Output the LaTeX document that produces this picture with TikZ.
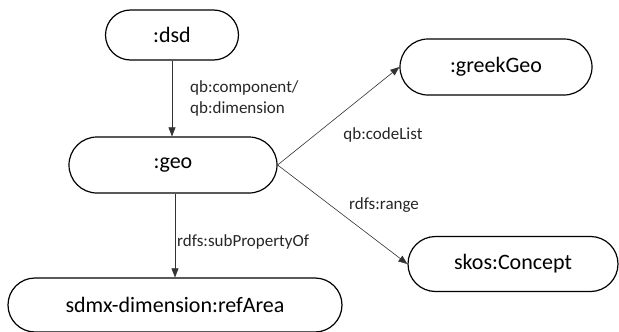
\documentclass[tikz,border=0pt]{standalone}
\usepackage{fontspec}
\setmainfont{Carlito}
\usetikzlibrary{shapes.misc,arrows.meta}
\begin{document}
\begin{tikzpicture}[x=1pt,y=-1pt,
  term/.style={draw=black,line width=1.2pt,rounded rectangle,inner sep=0pt,
    font=\fontsize{22}{26}\selectfont},
  rel/.style={draw=black!80,line width=0.6pt,-{Triangle[length=9pt,width=7pt]}},
  lbl/.style={font=\fontsize{17}{21}\selectfont,inner sep=0pt,text=black!85}]
\useasboundingbox (0,0) rectangle (619,332);
\node[term,minimum width=133pt,minimum height=50pt] (dsd) at (172,35) {:dsd};
\node[term,minimum width=208pt,minimum height=56pt] (geo) at (173,165) {:geo};
\node[term,minimum width=334pt,minimum height=54pt] (ref) at (175,305) {sdmx-dimension:refArea};
\node[term,minimum width=192pt,minimum height=56pt] (greek) at (496,67) {:greekGeo};
\node[term,minimum width=210pt,minimum height=55pt] (skos) at (513,264) {skos:Concept};
\draw[rel] (dsd.south) -- (dsd.south |- geo.north);
\draw[rel] (ref.north |- geo.south) -- (ref.north);
\draw[rel] (geo.east) -- (greek.west);
\draw[rel] (geo.east) -- (skos.west);
\node[lbl,anchor=west,align=left] (l1) at (190,98) {qb:component/\\qb:dimension};
\node[lbl,anchor=west] (l2) at (177,242) {rdfs:subPropertyOf};
\node[lbl] (l3) at (383,135) {qb:codeList};
\node[lbl] (l4) at (384,205) {rdfs:range};
\end{tikzpicture}
\end{document}
